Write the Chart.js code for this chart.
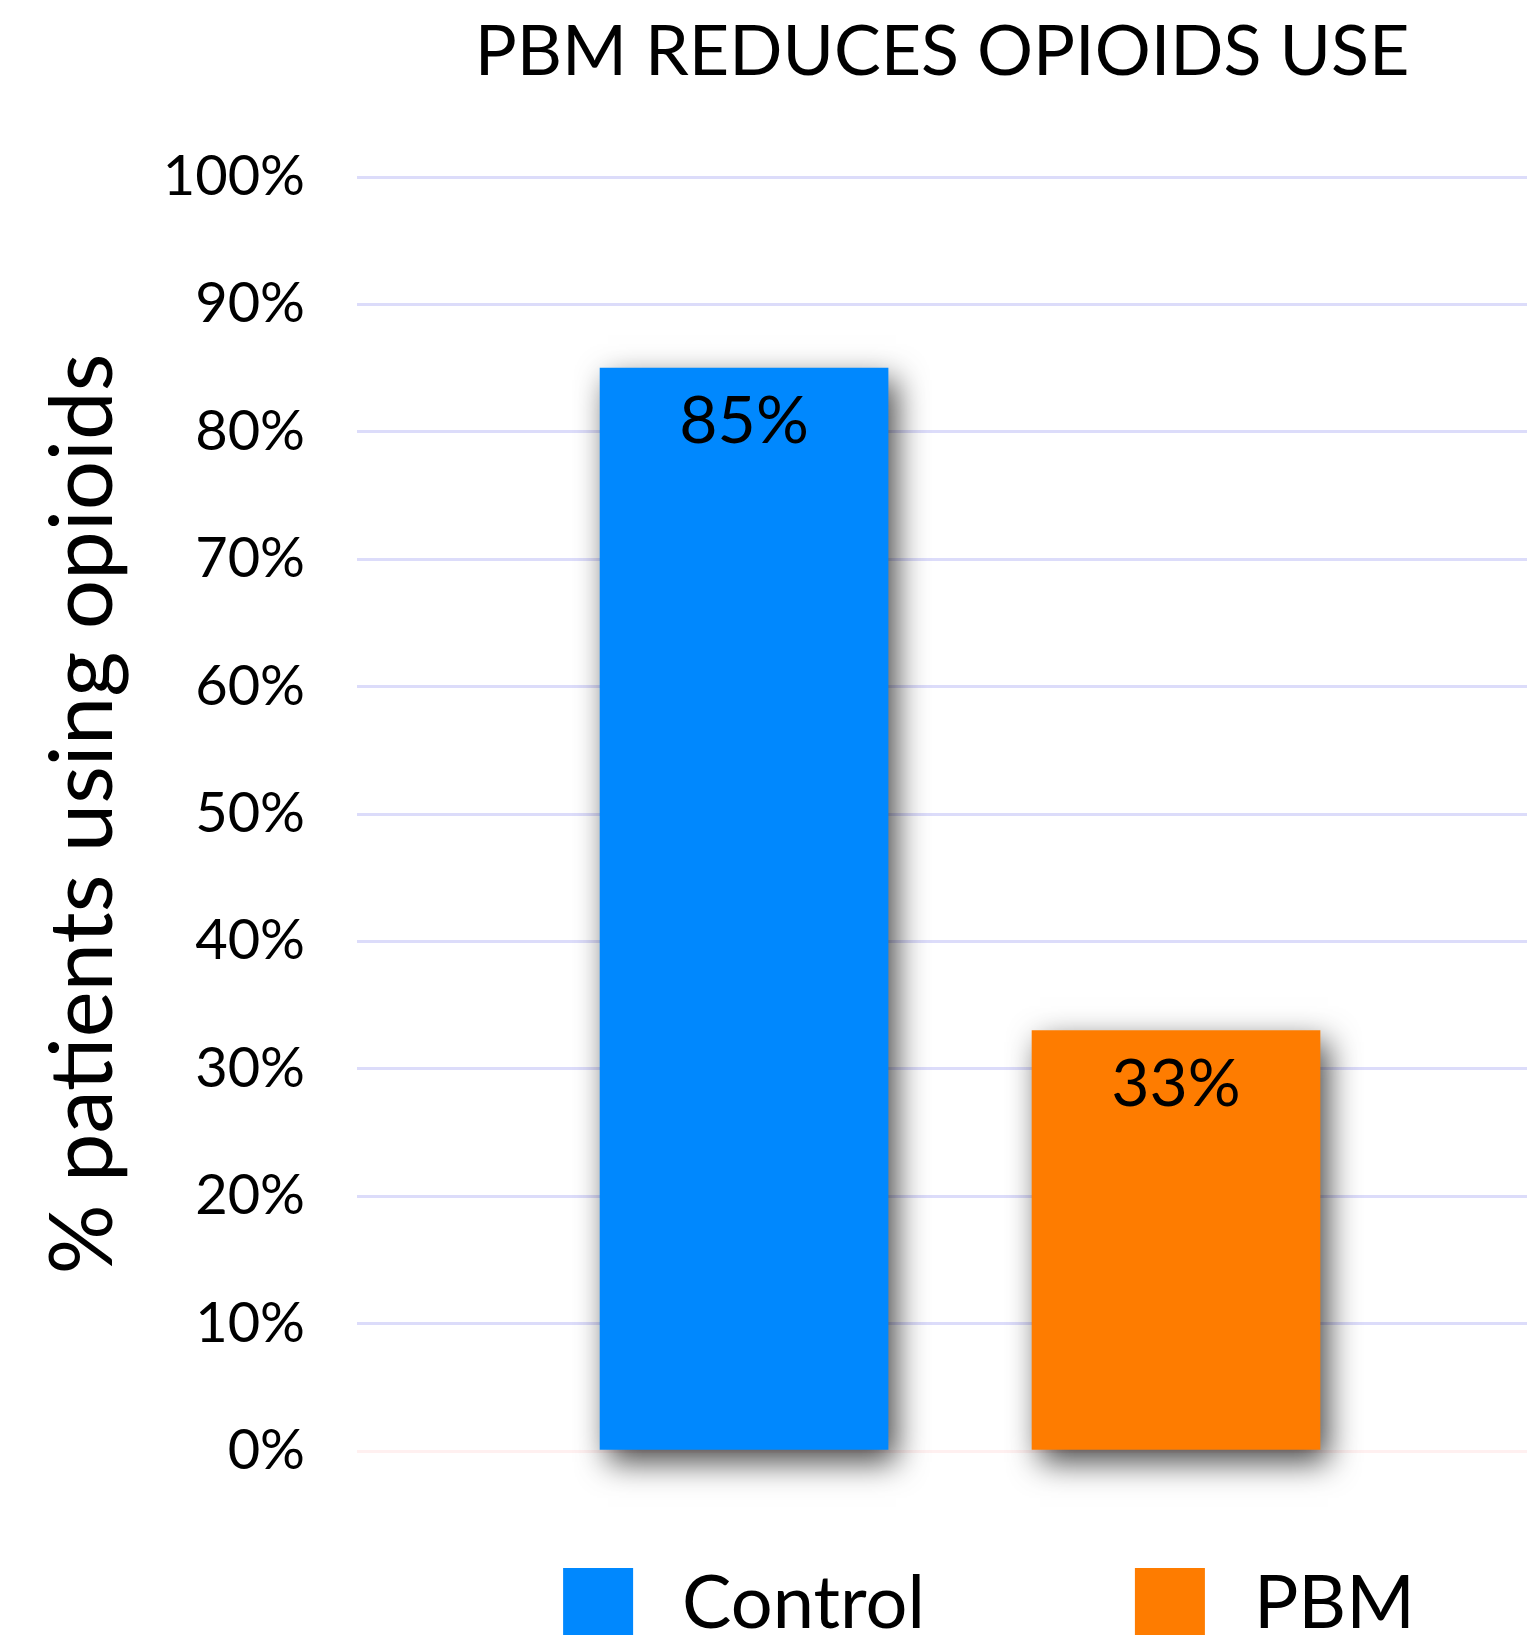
<!DOCTYPE html>
<html>
<head>
<meta charset="utf-8">
<title>PBM reduces opioids use</title>
<script src="https://cdn.jsdelivr.net/npm/chart.js@4/dist/chart.umd.min.js"></script>
<style>
  html, body { margin: 0; padding: 0; background: #ffffff; overflow: hidden; }
  canvas { display: block; }
</style>
</head>
<body>
<canvas id="chart" width="1527" height="1635"></canvas>
<script>
// Chart content
const categories = ['Control', 'PBM'];
const values = [85, 33];
const barColors = ['#0088fe', '#fe7c00'];
const yTickValues = [0, 10, 20, 30, 40, 50, 60, 70, 80, 90, 100];
const chartTitle = 'PBM REDUCES OPIOIDS USE';
const yAxisTitle = '% patients using opioids';

const FONT = 'Lato, "Open Sans", "DejaVu Sans", sans-serif';
const pct = v => v + '%';

// One dataset per group so each gets its own legend entry and colour
const datasets = categories.map((name, i) => ({
  label: name,
  data: [{ x: i, y: values[i] }],
  backgroundColor: barColors[i],
  borderWidth: 0,
  barThickness: 288,
  grouped: false,
  clip: false
}));

// Soft drop shadow under the bars, then the value written inside each bar top
const barDecor = {
  id: 'barDecor',
  beforeDatasetsDraw(chart) {
    const ctx = chart.ctx;
    ctx.save();
    ctx.shadowColor = 'rgba(0, 0, 0, 0.72)';
    ctx.shadowBlur = 30;
    ctx.shadowOffsetX = 8;
    ctx.shadowOffsetY = 12;
  },
  afterDatasetsDraw(chart) {
    const ctx = chart.ctx;
    ctx.restore();
    ctx.save();
    ctx.fillStyle = '#000000';
    ctx.font = '66px ' + FONT;
    ctx.textAlign = 'center';
    ctx.textBaseline = 'alphabetic';
    chart.data.datasets.forEach((ds, di) => {
      const meta = chart.getDatasetMeta(di);
      meta.data.forEach((bar, j) => {
        ctx.fillText(pct(ds.data[j].y), bar.x, bar.y + 75);
      });
    });
    ctx.restore();
  }
};

// Legend row under the plot: square swatch followed by the series name
const bottomLegend = {
  id: 'bottomLegend',
  afterDraw(chart, args, opts) {
    const ctx = chart.ctx;
    ctx.save();
    ctx.font = opts.fontSize + 'px ' + FONT;
    ctx.textBaseline = 'alphabetic';
    ctx.textAlign = 'left';
    const items = chart.data.datasets.map(ds => ({
      text: ds.label,
      color: ds.backgroundColor,
      w: ctx.measureText(ds.label).width
    }));
    let total = 0;
    items.forEach((it, i) => {
      total += opts.box + opts.gap + it.w + (i < items.length - 1 ? opts.spacing : 0);
    });
    let x = opts.centerX - total / 2;
    items.forEach(it => {
      ctx.fillStyle = it.color;
      ctx.fillRect(x, opts.top, opts.box, opts.box);
      ctx.fillStyle = '#000000';
      ctx.fillText(it.text, x + opts.box + opts.gap, opts.baseline);
      x += opts.box + opts.gap + it.w + opts.spacing;
    });
    ctx.restore();
  }
};

new Chart(document.getElementById('chart'), {
  type: 'bar',
  data: { datasets },
  plugins: [barDecor, bottomLegend],
  options: {
    responsive: false,
    animation: false,
    events: [],
    layout: { padding: { left: 0, right: 0, top: 0, bottom: 184 } },
    scales: {
      x: {
        type: 'linear',
        display: false,
        offset: false,
        min: -0.896,
        max: 1.8125
      },
      y: {
        min: 0,
        max: 100,
        afterBuildTicks(scale) {
          scale.ticks = yTickValues.map(v => ({ value: v }));
        },
        afterFit(scale) {
          scale.width = 357;
        },
        ticks: {
          callback: v => pct(v),
          color: '#000000',
          font: { family: FONT, size: 56 },
          padding: 52
        },
        grid: {
          drawTicks: false,
          lineWidth: 3,
          color: c => (c.tick && c.tick.value === 0) ? '#fff0f0' : '#dcdcfa'
        },
        border: { display: false },
        title: {
          display: true,
          text: yAxisTitle,
          color: '#000000',
          font: { family: FONT, size: 87, lineHeight: 1 },
          padding: { top: 40, bottom: 0 }
        }
      }
    },
    plugins: {
      legend: { display: false },
      tooltip: { enabled: false },
      title: {
        display: true,
        text: chartTitle,
        color: '#000000',
        fullSize: false,
        font: { family: FONT, size: 70, weight: 'normal', lineHeight: 1 },
        padding: { top: 17, bottom: 90 }
      },
      bottomLegend: {
        centerX: 989,
        top: 1568,
        baseline: 1628,
        box: 70,
        gap: 49,
        spacing: 210,
        fontSize: 74
      }
    }
  }
});
</script>
</body>
</html>
